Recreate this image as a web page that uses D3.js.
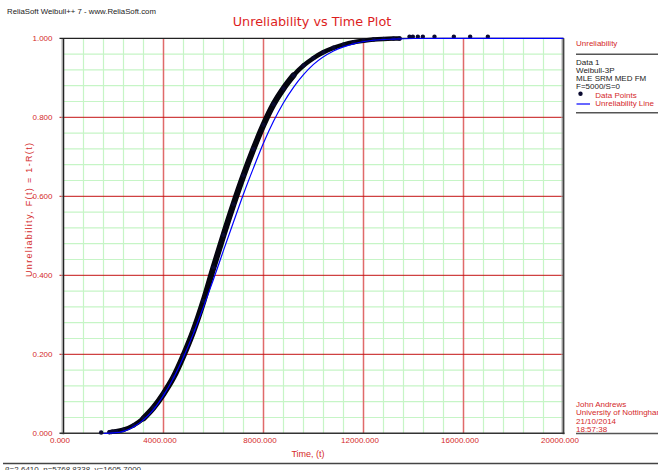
<!DOCTYPE html>
<html lang="en">
<meta charset="utf-8">
<head>
  <script src="https://d3js.org/d3.v7.min.js"></script>
  <style>
    body { margin: 0; background: #fff; }
    svg text { font-family: "Liberation Sans", Arial, sans-serif; }
  </style>
</head>
<body>
  <div id="my_dataviz"></div>
  <script>
    // chart values
    var xTicks = [0, 4000, 8000, 12000, 16000, 20000];
    var yTicks = [0, 0.2, 0.4, 0.6, 0.8, 1.0];

    // data points (median ranks), time and unreliability
    var pointTimes = [1507, 1840, 1950, 2100, 2400, 2800, 3200, 3600, 4000, 4400, 4800, 5200, 5600,
      6000, 6400, 6800, 7200, 7600, 8000, 8400, 8800, 9200, 9600, 10000, 10400, 10800, 11200,
      11600, 12000, 12400, 12800, 13200, 13440, 13840, 13973, 14173, 14373, 14840, 15613, 16267, 16973];
    var pointUnrel = [0.002, 0.003, 0.004, 0.005, 0.009, 0.02, 0.038, 0.065, 0.1, 0.142, 0.197, 0.26, 0.335,
      0.42, 0.502, 0.58, 0.653, 0.72, 0.781, 0.833, 0.873, 0.906, 0.931, 0.95, 0.965, 0.976, 0.984,
      0.99, 0.994, 0.997, 0.9985, 0.9993, 0.9996, 1, 1, 1, 1, 1, 1, 1, 1];

    // fitted unreliability line
    var lineTimes = [1606, 2000, 2400, 2800, 3200, 3600, 4000, 4400, 4800, 5200, 5600, 6000, 6400, 6800,
      7200, 7600, 8000, 8400, 8800, 9200, 9600, 10000, 10800, 11600, 12400, 13200, 14000, 16000, 20000];
    var lineUnrel = [0, 0.001, 0.005, 0.016, 0.034, 0.06, 0.096, 0.14, 0.193, 0.253, 0.32, 0.39, 0.463, 0.535,
      0.606, 0.672, 0.735, 0.79, 0.837, 0.876, 0.908, 0.934, 0.968, 0.986, 0.995, 0.998, 0.9995, 1, 1];

    var legendInfo = ["Data 1", "Weibull-3P", "MLE SRM MED FM", "F=5000/S=0"];
    var userInfo = ["John Andrews", "University of Nottingham", "21/10/2014", "18:57:38"];

    var W = 658, H = 470;
    var red = "#d42a2a";

    var svg = d3.select("#my_dataviz")
      .append("svg")
      .attr("width", W)
      .attr("height", H);

    var x = d3.scaleLinear().domain([0, 20000]).range([63.5, 563.5]);
    var y = d3.scaleLinear().domain([0, 1]).range([433.3, 38.3]);

    // minor grid
    var xMinor = d3.range(800, 20000, 800).filter(function (v) { return v % 4000 != 0; });
    var yMinor = d3.range(1, 25).map(function (i) { return i * 0.04; }).filter(function (v, i) { return (i + 1) % 5 != 0; });

    svg.append("g").selectAll("line").data(xMinor).enter().append("line")
      .attr("x1", function (d) { return x(d); }).attr("x2", function (d) { return x(d); })
      .attr("y1", y(0)).attr("y2", y(1))
      .attr("stroke", "#c6f5c6").attr("stroke-width", 1.2);
    svg.append("g").selectAll("line").data(yMinor).enter().append("line")
      .attr("x1", x(0)).attr("x2", x(20000))
      .attr("y1", function (d) { return y(d); }).attr("y2", function (d) { return y(d); })
      .attr("stroke", "#c6f5c6").attr("stroke-width", 1.2);

    // major grid
    svg.append("g").selectAll("line").data(xTicks.slice(1, -1)).enter().append("line")
      .attr("x1", function (d) { return x(d); }).attr("x2", function (d) { return x(d); })
      .attr("y1", y(0)).attr("y2", y(1))
      .attr("stroke", "#e06a6a").attr("stroke-width", 1.5);
    svg.append("g").selectAll("line").data(yTicks.slice(1, -1)).enter().append("line")
      .attr("x1", x(0) - 4).attr("x2", x(20000))
      .attr("y1", function (d) { return y(d); }).attr("y2", function (d) { return y(d); })
      .attr("stroke", "#c41212").attr("stroke-width", 1);

    // frame
    svg.append("line").attr("x1", x(0) - 1.5).attr("x2", x(0) - 1.5).attr("y1", y(1)).attr("y2", y(0) + 1)
      .attr("stroke", "#aaa").attr("stroke-width", 1);
    svg.append("line").attr("x1", x(20000) - 1.5).attr("x2", x(20000) - 1.5).attr("y1", y(1)).attr("y2", y(0))
      .attr("stroke", "#aaa").attr("stroke-width", 1);
    svg.append("line").attr("x1", x(0)).attr("x2", x(0)).attr("y1", y(1)).attr("y2", y(0) + 1)
      .attr("stroke", "#222").attr("stroke-width", 1.5);
    svg.append("line").attr("x1", x(20000)).attr("x2", x(20000)).attr("y1", y(1)).attr("y2", y(0) + 1)
      .attr("stroke", "#444").attr("stroke-width", 1.8);
    svg.append("line").attr("x1", x(0) - 4).attr("x2", x(20000)).attr("y1", y(1)).attr("y2", y(1))
      .attr("stroke", "#222").attr("stroke-width", 1.2);
    svg.append("line").attr("x1", x(0) - 4).attr("x2", x(20000) + 1).attr("y1", y(0)).attr("y2", y(0))
      .attr("stroke", "#333").attr("stroke-width", 1.6);

    // tick labels
    svg.append("g").selectAll("text").data(yTicks).enter().append("text")
      .attr("x", 52.5).attr("y", function (d) { return y(d); })
      .attr("dy", "0.3em").attr("text-anchor", "end")
      .attr("font-size", 8).attr("fill", red)
      .text(function (d) { return d3.format(".3f")(d); });
    svg.append("g").selectAll("text").data(xTicks).enter().append("text")
      .attr("x", function (d) { return x(d) - 3.5; }).attr("y", 443)
      .attr("text-anchor", "middle")
      .attr("font-size", 8).attr("fill", red)
      .text(function (d) { return d3.format(".3f")(d); });

    // titles
    svg.append("text").attr("x", 312).attr("y", 26).attr("text-anchor", "middle")
      .style("font-family", "DejaVu Sans")
      .attr("font-size", 12.8).attr("fill", "#dd1e1e").text("Unreliability vs Time Plot");
    svg.append("text").attr("x", 308).attr("y", 457).attr("text-anchor", "middle")
      .attr("font-size", 9).attr("fill", red).text("Time, (t)");
    svg.append("text").attr("transform", "translate(31.5,210) rotate(-90)")
      .attr("text-anchor", "middle").attr("font-size", 9).attr("fill", red)
      .attr("textLength", 134).attr("lengthAdjust", "spacing")
      .text("Unreliability, F(t) = 1-R(t)");

    svg.append("text").attr("x", 7).attr("y", 14).attr("font-size", 7.8).attr("fill", "#222")
      .text("ReliaSoft Weibull++ 7 - www.ReliaSoft.com");

    // data points: dense enough to form a band
    var pts = pointTimes.map(function (t, i) { return [t, pointUnrel[i]]; });
    var band = pts.filter(function (d) { return d[0] >= 1800 && d[0] <= 13500; });
    var dense = pts.filter(function (d) { return d[1] >= 0.03 && d[1] <= 0.92; });
    var pathLine = d3.line().x(function (d) { return x(d[0]); }).y(function (d) { return y(d[1]); })
      .curve(d3.curveMonotoneX);

    svg.append("path").datum(band).attr("d", pathLine)
      .attr("fill", "none").attr("stroke", "#05050f").attr("stroke-width", 4.5).attr("stroke-linecap", "round");
    svg.append("path").datum(dense).attr("d", pathLine)
      .attr("fill", "none").attr("stroke", "#05050f").attr("stroke-width", 6).attr("stroke-linecap", "round");
    svg.append("g").selectAll("circle").data(pts).enter().append("circle")
      .attr("cx", function (d) { return x(d[0]); })
      .attr("cy", function (d) { return y(d[1]) - (d[1] >= 1 ? 1.5 : 0); })
      .attr("r", 2.2).attr("fill", "#0a0a30");

    // unreliability line
    var fit = lineTimes.map(function (t, i) { return [t, lineUnrel[i]]; });
    svg.append("path").datum(fit).attr("d", pathLine)
      .attr("fill", "none").attr("stroke", "#0000ff").attr("stroke-width", 1.2);

    // legend panel
    var lx = 576;
    svg.append("text").attr("x", lx).attr("y", 45.5).attr("font-size", 8).attr("fill", red).text("Unreliability");
    svg.append("line").attr("x1", lx).attr("x2", W).attr("y1", 54.3).attr("y2", 54.3).attr("stroke", "#555").attr("stroke-width", 1.5);
    svg.append("g").selectAll("text").data(legendInfo).enter().append("text")
      .attr("x", lx).attr("y", function (d, i) { return 65 + i * 8; })
      .attr("font-size", 8).attr("fill", "#222").text(function (d) { return d; });
    svg.append("circle").attr("cx", 580.5).attr("cy", 93.7).attr("r", 2.2).attr("fill", "#0a0a30");
    svg.append("text").attr("x", 595.3).attr("y", 97.5).attr("font-size", 8).attr("fill", red).text("Data Points");
    svg.append("line").attr("x1", 576.5).attr("x2", 590).attr("y1", 104).attr("y2", 104).attr("stroke", "#0000ff").attr("stroke-width", 1.2);
    svg.append("text").attr("x", 595.3).attr("y", 105.5).attr("font-size", 8).attr("fill", red).text("Unreliability Line");
    svg.append("line").attr("x1", lx).attr("x2", W).attr("y1", 112.7).attr("y2", 112.7).attr("stroke", "#555").attr("stroke-width", 1.5);

    svg.append("g").selectAll("text").data(userInfo).enter().append("text")
      .attr("x", lx).attr("y", function (d, i) { return 407 + i * 8.4; })
      .attr("font-size", 8).attr("fill", red).text(function (d) { return d; });
    svg.append("line").attr("x1", lx).attr("x2", W).attr("y1", 433.5).attr("y2", 433.5).attr("stroke", "#555").attr("stroke-width", 1.5);

    // footer
    svg.append("line").attr("x1", 3).attr("x2", W).attr("y1", 463.5).attr("y2", 463.5).attr("stroke", "#444").attr("stroke-width", 1.5);
    svg.append("text").attr("x", 5).attr("y", 471.5).attr("font-size", 8).attr("fill", "#333")
      .text("β=2.6410, η=5768.8338, γ=1605.7000");
  </script>
</body>
</html>
